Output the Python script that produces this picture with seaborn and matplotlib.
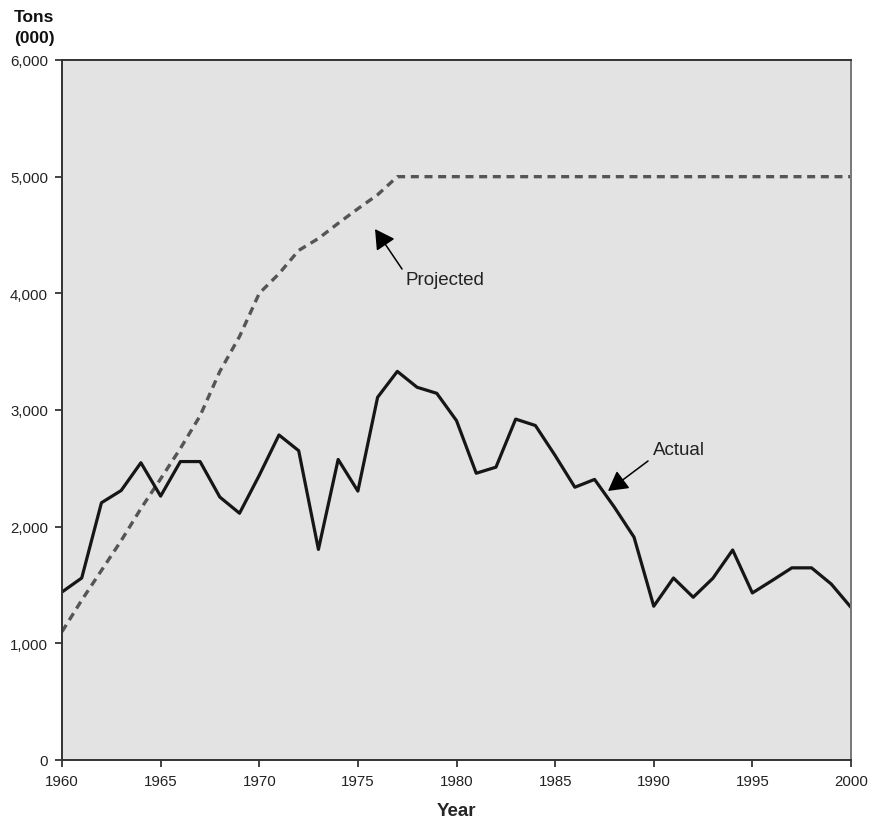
import matplotlib
matplotlib.use("Agg")
import matplotlib.pyplot as plt
import seaborn as sns
import pandas as pd
from matplotlib.ticker import FuncFormatter

years = list(range(1960, 2001))
actual = [1440, 1560, 2205, 2310, 2548, 2262, 2558, 2558, 2254, 2115,
          2440, 2786, 2651, 1805, 2576, 2305, 3109, 3331, 3195, 3143,
          2909, 2458, 2510, 2922, 2867, 2610, 2338, 2405, 2168, 1910,
          1318, 1560, 1395, 1558, 1800, 1432, 1538, 1647, 1647, 1508,
          1308]
projected = [1100, 1370, 1625, 1880, 2155, 2410, 2670, 2950, 3330, 3630,
             4000, 4168, 4368, 4470, 4600, 4725, 4845, 5000, 5000, 5000,
             5000, 5000, 5000, 5000, 5000, 5000, 5000, 5000, 5000, 5000,
             5000, 5000, 5000, 5000, 5000, 5000, 5000, 5000, 5000, 5000,
             5000]

y_ticks = [0, 1000, 2000, 3000, 4000, 5000, 6000]
x_ticks = [1960, 1965, 1970, 1975, 1980, 1985, 1990, 1995, 2000]

df = pd.DataFrame({"Year": years, "Actual": actual, "Projected": projected})

sns.set_style("ticks")
plt.rcParams["font.family"] = ["Liberation Sans", "DejaVu Sans"]

fig = plt.figure(figsize=(8.7, 8.2), dpi=100)
ax = fig.add_axes([62 / 870, 1 - 761 / 820, (851 - 62) / 870, (761 - 61) / 820])
ax.set_facecolor("#e3e3e3")

sns.lineplot(data=df, x="Year", y="Projected", ax=ax, color="#555555",
             linewidth=2.4, linestyle=(0, (2.4, 1.7)))
sns.lineplot(data=df, x="Year", y="Actual", ax=ax, color="#161616",
             linewidth=2.3)

ax.set_xlim(1960, 2000)
ax.set_ylim(0, 6000)
ax.set_xticks(x_ticks)
ax.set_yticks(y_ticks)
ax.yaxis.set_major_formatter(FuncFormatter(lambda v, p: f"{int(v):,}"))
ax.tick_params(axis="both", direction="out", length=5, width=1.2,
               labelsize=10.8, color="#222222", labelcolor="#222222", pad=5)
for s in ax.spines.values():
    s.set_visible(True)
    s.set_linewidth(1.4)
    s.set_color("#333333")
ax.spines["right"].set_color("#777777")

ax.set_xlabel("Year", fontsize=13.5, fontweight="bold", labelpad=10)
ax.set_ylabel("")
fig.text(14 / 870, 1 - 28 / 820, "Tons\n(000)", fontsize=12.5,
         fontweight="bold", ha="left", va="center", linespacing=1.5,
         color="#111111")

arrow_kw = dict(arrowstyle="-|>,head_length=0.5,head_width=0.28",
                color="black", lw=1.1, mutation_scale=24, shrinkA=0, shrinkB=0)
ax.annotate("", xy=(1975.87, 4551), xytext=(1977.24, 4208),
            arrowprops=arrow_kw)
ax.text(1977.4, 4118, "Projected", fontsize=13.5, color="#222222",
        ha="left", va="center")
ax.annotate("", xy=(1987.68, 2306), xytext=(1989.71, 2563),
            arrowprops=arrow_kw)
ax.text(1989.96, 2661, "Actual", fontsize=13.5, color="#222222",
        ha="left", va="center")

fig.savefig("out.png", dpi=100)
